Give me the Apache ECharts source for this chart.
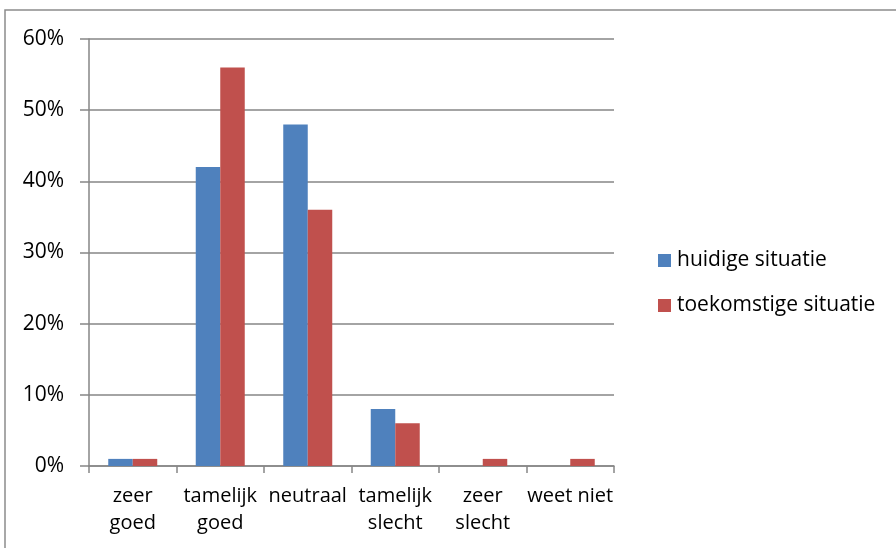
<!DOCTYPE html>
<html><head><meta charset="utf-8">
<script src="https://cdn.jsdelivr.net/npm/echarts@6/dist/echarts.min.js"></script>
<style>html,body{margin:0;padding:0;background:#fff}#c{width:896px;height:548px}</style>
</head><body><div id="c"></div>
<script>
const categories = ['zeer\ngoed', 'tamelijk\ngoed', 'neutraal', 'tamelijk\nslecht', 'zeer\nslecht', 'weet niet'];
const seriesNames = ['huidige situatie', 'toekomstige situatie'];
const huidige = [1, 42, 48, 8, 0, 0];
const toekomstige = [1, 56, 36, 6, 1, 1];
const yTicks = [0, 10, 20, 30, 40, 50, 60];

const font = '"Open Sans", "Noto Sans", sans-serif';
const chart = echarts.init(document.getElementById('c'), null, {renderer: 'canvas'});
chart.setOption({
  animation: false,
  backgroundColor: '#fff',
  graphic: [{
    type: 'rect', silent: true,
    shape: {x: 5, y: 10, width: 1000, height: 700},
    style: {fill: 'none', stroke: '#8c8c8c', lineWidth: 1.5}
  }],
  grid: {left: 89, right: 282, top: 39, bottom: 82, containLabel: false},
  legend: {
    orient: 'vertical', left: 653, top: 245, itemWidth: 13, itemHeight: 13,
    itemGap: 24, icon: 'rect',
    textStyle: {fontFamily: font, fontSize: 21, color: '#000', padding: [0, 0, 0, 1]},
    data: seriesNames
  },
  xAxis: {
    type: 'category', data: categories,
    axisLine: {lineStyle: {color: '#868686', width: 1.5}},
    axisTick: {show: true, length: 7, alignWithLabel: false, lineStyle: {color: '#868686', width: 1.5}},
    axisLabel: {fontFamily: font, fontSize: 20, color: '#000', lineHeight: 27, margin: 17, interval: 0}
  },
  yAxis: {
    type: 'value', min: yTicks[0], max: yTicks[yTicks.length - 1], interval: 10,
    axisLine: {show: true, lineStyle: {color: '#868686', width: 1.5}},
    axisTick: {show: true, length: 9, inside: false, lineStyle: {color: '#868686', width: 1.5}},
    splitLine: {lineStyle: {color: '#868686', width: 1.5}},
    axisLabel: {fontFamily: font, fontSize: 21, color: '#000', margin: 25, formatter: v => v + '%'}
  },
  series: [
    {name: seriesNames[0], type: 'bar', data: huidige, barWidth: 24.5, barGap: '0%',
     itemStyle: {color: '#4F81BD'}},
    {name: seriesNames[1], type: 'bar', data: toekomstige, barWidth: 24.5,
     itemStyle: {color: '#C0504D'}}
  ]
});
</script></body></html>
